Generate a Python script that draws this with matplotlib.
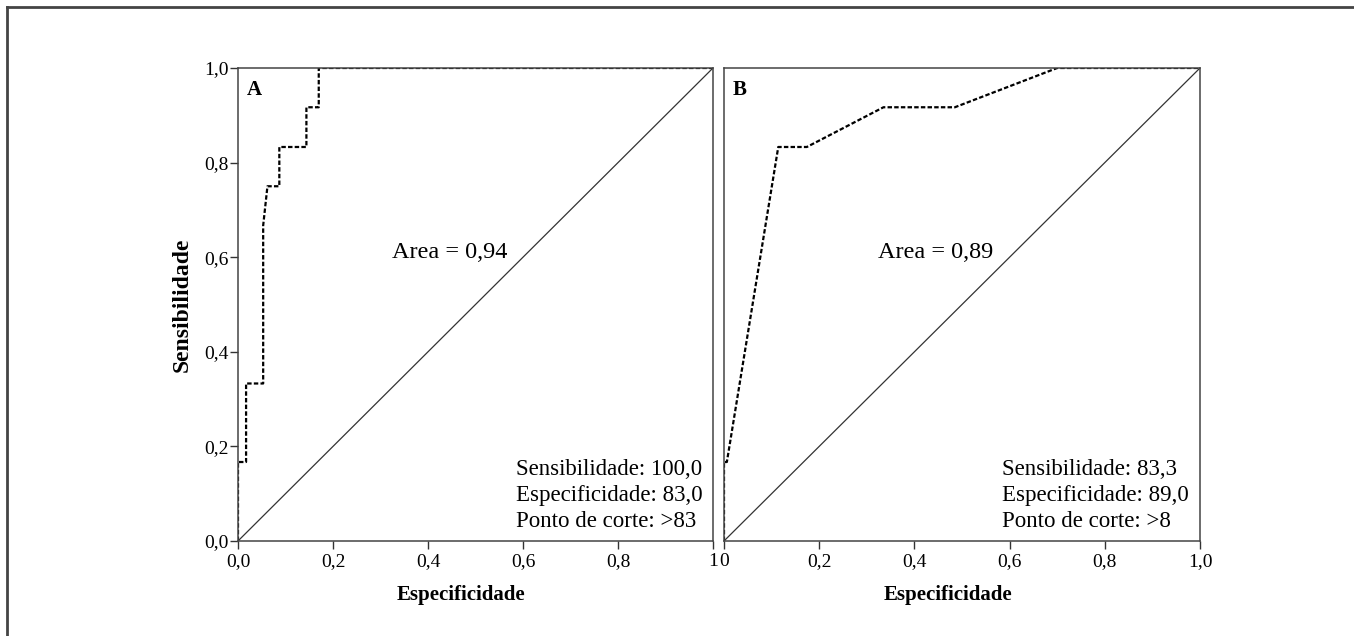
import numpy as np
import matplotlib
matplotlib.use("Agg")
import matplotlib.pyplot as plt
from matplotlib.lines import Line2D

plt.rcParams["font.family"] = ["Liberation Serif", "DejaVu Serif"]

# ROC curve A (1 - especificidade, sensibilidade)
roc_a_x = [0.0, 0.0, 0.017, 0.017, 0.053, 0.053, 0.062, 0.087, 0.087, 0.144, 0.144, 0.17, 0.17, 1.0]
roc_a_y = [0.0, 0.167, 0.167, 0.333, 0.333, 0.667, 0.75, 0.75, 0.833, 0.833, 0.917, 0.917, 1.0, 1.0]

# ROC curve B
roc_b_x = [0.0, 0.0, 0.006, 0.114, 0.174, 0.335, 0.485, 0.70, 1.0]
roc_b_y = [0.0, 0.167, 0.167, 0.833, 0.833, 0.917, 0.917, 1.0, 1.0]

area_labels = ["Area = 0,94", "Area = 0,89"]
stats_a = ["Sensibilidade: 100,0", "Especificidade: 83,0", "Ponto de corte: >83"]
stats_b = ["Sensibilidade: 83,3", "Especificidade: 89,0", "Ponto de corte: >8"]
ticks = [0.0, 0.2, 0.4, 0.6, 0.8, 1.0]
xticklabels_a = ["0,0", "0,2", "0,4", "0,6", "0,8", "1"]
xticklabels_b = ["0", "0,2", "0,4", "0,6", "0,8", "1,0"]
yticklabels = ["0,0", "0,2", "0,4", "0,6", "0,8", "1,0"]

fig = plt.figure(figsize=(13.54, 6.36), dpi=100)

# outer frame (top and left edges only visible)
fig.add_artist(Line2D([7 / 1354, 1], [1 - 7 / 636, 1 - 7 / 636], color="#444444", lw=2))
fig.add_artist(Line2D([7 / 1354, 7 / 1354], [0, 1 - 7 / 636], color="#444444", lw=2))

ax_a = fig.add_axes([238 / 1354, 95 / 636, 475 / 1354, 473 / 636])
ax_b = fig.add_axes([724 / 1354, 95 / 636, 476 / 1354, 473 / 636])


def draw_panel(ax, xs, ys, letter, area, stats, xlabels, show_y):
    ax.plot(xs, ys, color="black", lw=1.6, ls=(0, (2.0, 1.0)))
    ax.plot([0, 1], [0, 1], color="#333333", lw=0.9)
    ax.set_xlim(0, 1)
    ax.set_ylim(0, 1)
    for sp in ax.spines.values():
        sp.set_color("#444444")
        sp.set_linewidth(1.1)
    ax.set_xticks(ticks)
    ax.set_xticklabels(xlabels, fontsize=14)
    ax.tick_params(axis="x", direction="out", length=6, width=1, color="#333333", pad=3)
    if show_y:
        ax.set_yticks(ticks)
        ax.set_yticklabels(yticklabels, fontsize=14)
        ax.tick_params(axis="y", direction="out", length=6, width=1, color="#333333", pad=1)
        ax.set_ylabel("Sensibilidade", fontsize=17, fontweight="bold", labelpad=8)
    else:
        ax.set_yticks([])
    ax.set_xlabel("Especificidade", fontsize=15, fontweight="bold")
    ax.xaxis.set_label_coords(0.47, -0.093)
    ax.text(0.018, 0.975, letter, fontsize=15, fontweight="bold", va="top", ha="left")
    ax.text(0.445, 0.61, area, fontsize=17.5, ha="center", va="center")
    ax.text(0.585, 0.018, "\n".join(stats), fontsize=16.5, ha="left", va="bottom",
            linespacing=1.32)


draw_panel(ax_a, roc_a_x, roc_a_y, "A", area_labels[0], stats_a, xticklabels_a, True)
draw_panel(ax_b, roc_b_x, roc_b_y, "B", area_labels[1], stats_b, xticklabels_b, False)

fig.savefig("out.png", dpi=100)
